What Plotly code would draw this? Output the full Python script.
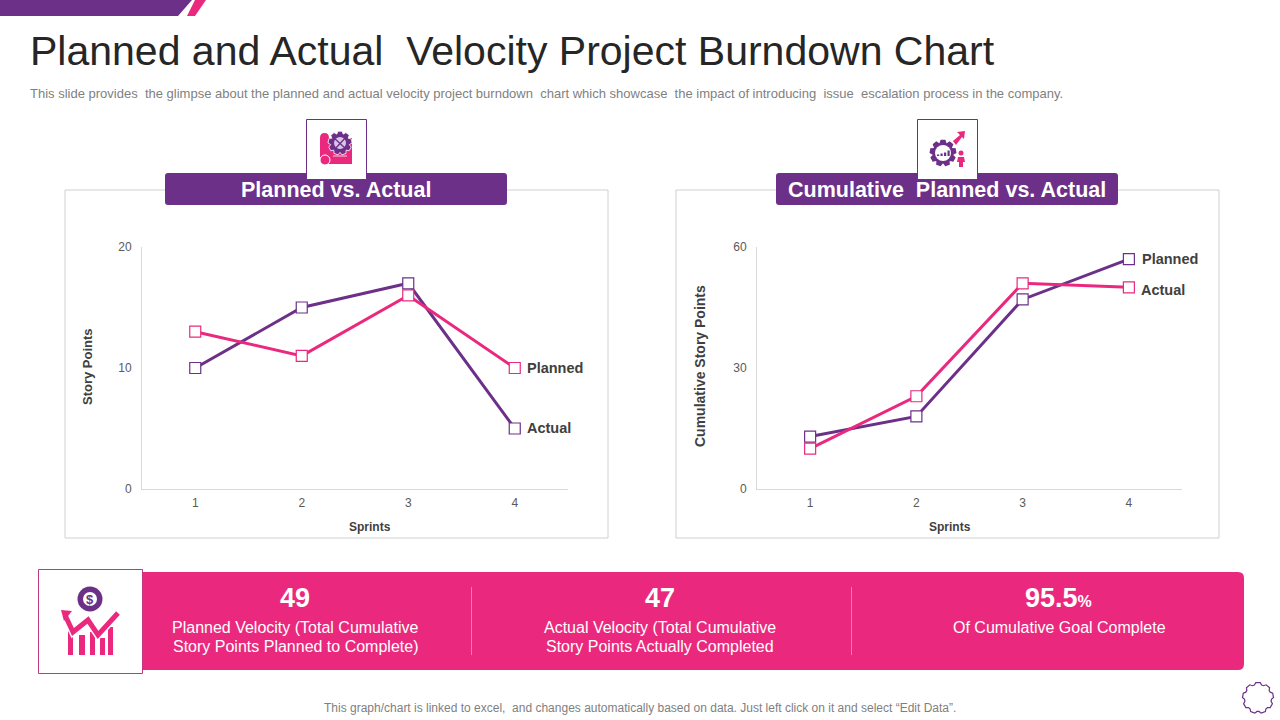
import math
import re
import plotly.graph_objects as go

# ---- data ----
sprints = [1, 2, 3, 4]
left_actual = [10, 15, 17, 5]
left_planned = [13, 11, 16, 10]
right_planned = [13, 18, 47, 57]
right_actual = [10, 23, 51, 50]
left_ticks = [0, 10, 20]
right_ticks = [0, 30, 60]

PURPLE = "#6C3089"
PINK = "#EA297E"
FONT = "Liberation Sans"
W, H = 1280, 720


def px_x(v):
    return v / W


def px_y(v):
    return 1 - v / H


fig = go.Figure()


def series(xa, ya, vals, color, name):
    fig.add_trace(go.Scatter(
        x=sprints, y=vals, xaxis=xa, yaxis=ya, name=name, mode="lines+markers",
        line=dict(color=color, width=3),
        marker=dict(symbol="square", size=11, color="white", line=dict(color=color, width=1.2)),
        showlegend=False, hoverinfo="x+y+name", cliponaxis=False))


series("x", "y", left_actual, PURPLE, "Actual")
series("x", "y", left_planned, PINK, "Planned")
series("x2", "y2", right_planned, PURPLE, "Planned")
series("x2", "y2", right_actual, PINK, "Actual")

axis_x = dict(range=[0.5, 4.5], tickvals=sprints, showgrid=False, zeroline=False,
              showline=True, linecolor="#D9D9D9", linewidth=1, ticks="outside", ticklen=3,
              tickcolor="rgba(0,0,0,0)", tickfont=dict(family=FONT, size=12, color="#595959"))
axis_y = dict(showgrid=False, zeroline=False, showline=True, linecolor="#D9D9D9", linewidth=1,
              ticks="outside", ticklen=7, tickcolor="rgba(0,0,0,0)",
              tickfont=dict(family=FONT, size=12, color="#595959"))

fig.update_layout(
    width=W, height=H, margin=dict(l=0, r=0, t=0, b=0, autoexpand=False), autosize=False,
    paper_bgcolor="white", plot_bgcolor="rgba(0,0,0,0)", showlegend=False,
    xaxis=dict(axis_x, domain=[px_x(142), px_x(568)], anchor="y"),
    yaxis=dict(axis_y, domain=[px_y(489), px_y(247)], range=[0, 20], tickvals=left_ticks, anchor="x"),
    xaxis2=dict(axis_x, domain=[px_x(757), px_x(1182)], anchor="y2"),
    yaxis2=dict(axis_y, domain=[px_y(489), px_y(247)], range=[0, 60], tickvals=right_ticks, anchor="x2"),
)

shapes = []
NUM_PAIR = re.compile(r"(-?[\d.]+),(-?[\d.]+)")


def to_paper(d):
    return NUM_PAIR.sub(lambda m: f"{px_x(float(m.group(1))):.5f},{px_y(float(m.group(2))):.5f}", d)


def path(d, fill=None, line=None, lw=0):
    shapes.append(dict(type="path", path=to_paper(d), xref="paper", yref="paper",
                       fillcolor=fill or "rgba(0,0,0,0)",
                       line=dict(color=line or "rgba(0,0,0,0)", width=lw), layer="below"))


def rect(x0, y0, x1, y1, fill=None, line=None, lw=0):
    shapes.append(dict(type="rect", x0=px_x(x0), y0=px_y(y0), x1=px_x(x1), y1=px_y(y1),
                       xref="paper", yref="paper", fillcolor=fill or "rgba(0,0,0,0)",
                       line=dict(color=line or "rgba(0,0,0,0)", width=lw), layer="below"))


def circle(cx, cy, r, fill=None, line=None, lw=0):
    shapes.append(dict(type="circle", x0=px_x(cx - r), y0=px_y(cy - r), x1=px_x(cx + r), y1=px_y(cy + r),
                       xref="paper", yref="paper", fillcolor=fill or "rgba(0,0,0,0)",
                       line=dict(color=line or "rgba(0,0,0,0)", width=lw), layer="below"))


def rrect(x0, y0, x1, y1, r):
    return (f"M{x0+r},{y0} L{x1-r},{y0} Q{x1},{y0} {x1},{y0+r} L{x1},{y1-r} Q{x1},{y1} {x1-r},{y1} "
            f"L{x0+r},{y1} Q{x0},{y1} {x0},{y1-r} L{x0},{y0+r} Q{x0},{y0} {x0+r},{y0} Z")


def gear(cx, cy, r_out, r_in, teeth, w=1.6):
    pts = []
    step = 2 * math.pi / teeth
    for i in range(teeth):
        a = i * step - math.pi / 2
        for da, r in ((-0.30, r_in), (-0.16, r_out), (0.16, r_out), (0.30, r_in)):
            t = a + da * step * w
            pts.append((cx + r * math.cos(t), cy + r * math.sin(t)))
    return "M" + " L".join(f"{x:.2f},{y:.2f}" for x, y in pts) + " Z"


# top banner
path("M0,0 L192,0 L178,16 L0,16 Z", fill=PURPLE)
path("M195,0 L206,0 L195,16 L187,16 Z", fill=PINK)

# chart panels
rect(65, 190, 608, 538, fill="white", line="#C4C4C4", lw=0.8)
rect(676, 190, 1219, 538, fill="white", line="#C4C4C4", lw=0.8)

# header bars and icon boxes
path(rrect(165, 173, 507, 205, 3), fill=PURPLE)
path(rrect(776, 173, 1118, 205, 3), fill=PURPLE)
rect(306.5, 119.5, 366.5, 179.5, fill="white", line=PURPLE, lw=1)
rect(917.5, 119.5, 977.5, 179.5, fill="white", line=PURPLE, lw=1)

# blueprint icon
path("M328,138 L352,138 L352,164 L328,164 Z", fill=PINK)
path("M320,138 Q320,133 324.5,133 Q329,133 329,138 L329,157 Q324,154 320,158 Z", fill=PINK)
circle(325, 160, 5, fill=PINK, line="white", lw=1)
path(gear(340, 143, 12, 9.5, 9), fill=PURPLE, line="white", lw=0.8)
circle(340, 143, 6, fill="#D9C6E6")
path("M334,150 L348,135", line=PURPLE, lw=1.3)
path("M333,137 L346,149", line=PURPLE, lw=1.3)
path("M333,156 L347,156", line="#F5D3E2", lw=1)

# gear & arrow icon
path(gear(943, 153, 13.5, 10.5, 9), fill=PURPLE)
circle(943, 153, 8, fill="white")
for bx, bh in ((937, 1.5), (940.5, 2.5), (944, 3.5), (947.5, 5.5)):
    rect(bx, 156 - bh, bx + 2.2, 156, fill=PURPLE)
path("M953,141 L960,135 L957,132 L965,131 L964,139 L962,137 L956,145 Z", fill=PINK)
circle(961, 153, 2.5, fill=PINK)
path("M958,157 L964,157 L965,162 L963,162 L963,167 L959,167 L959,162 L957,162 Z", fill=PINK)

# KPI band
path("M143,572 L1238,572 Q1244,572 1244,578 L1244,664 Q1244,670 1238,670 L143,670 Z", fill=PINK)
rect(471, 587, 472, 655, fill="#F07FAF")
rect(851, 587, 852, 655, fill="#F07FAF")
rect(38.5, 569.5, 142.5, 673.5, fill="white", line="#C2357F", lw=1)

# money chart icon
circle(90, 599, 12.5, fill=PURPLE)
circle(90, 599, 7, fill="white")
for bx0, bx1, top in ((68, 73, 630), (79, 85, 635), (90, 95, 632), (100, 105, 638), (108, 113, 627)):
    rect(bx0, top, bx1, 655, fill=PINK)
path("M65,615 L73,632 L88,620 L98,635 L118,613", line="white", lw=8)
path("M65,615 L73,632 L88,620 L98,635 L118,613", line=PINK, lw=5)
path("M61,610 L72,611 L64,621 Z", fill=PINK)

# corner gear outline
path(gear(1258, 698, 15.5, 13.5, 9, 1.3), line=PURPLE, lw=1.2)

fig.update_layout(shapes=shapes)

annotations = []


def text(x, y, s, size, color, bold=False, xanchor="center", angle=0, family=FONT):
    annotations.append(dict(x=px_x(x), y=px_y(y), xref="paper", yref="paper",
                            text=f"<b>{s}</b>" if bold else s,
                            showarrow=False, xanchor=xanchor, yanchor="middle", textangle=angle,
                            font=dict(family=family, size=size, color=color), align="center"))


def end_label(xa, ya, xv, yv, s, xs, ys=0):
    annotations.append(dict(x=xv, y=yv, xref=xa, yref=ya, text=f"<b>{s}</b>", showarrow=False,
                            xanchor="left", yanchor="middle", xshift=xs, yshift=ys,
                            font=dict(family=FONT, size=14.5, color="#404040")))


text(28, 51, "Planned and Actual  Velocity Project Burndown Chart", 41, "#262626", xanchor="left")
text(28, 93.5, "This slide provides  the glimpse about the planned and actual velocity project burndown  chart which "
     "showcase  the impact of introducing  issue  escalation process in the company.", 13, "#7F7F7F", xanchor="left")
text(336, 189.5, "Planned vs. Actual", 21.5, "white", bold=True)
text(947, 189.5, "Cumulative  Planned vs. Actual", 21.5, "white", bold=True)

end_label("x", "y", 4, left_planned[3], "Planned", 10)
end_label("x", "y", 4, left_actual[3], "Actual", 10, 1)
end_label("x2", "y2", 4, right_planned[3], "Planned", 11)
end_label("x2", "y2", 4, right_actual[3], "Actual", 10, -3)

text(370, 527, "Sprints", 12, "#404040", bold=True)
text(950, 527, "Sprints", 12, "#404040", bold=True)
text(87, 367, "Story Points", 13, "#404040", bold=True, angle=-90)
text(700, 366, "Cumulative Story Points", 14, "#404040", bold=True, angle=-90)

text(295, 598, "49", 27, "white", bold=True)
text(295, 627, "Planned Velocity (Total Cumulative", 16, "white")
text(295, 646, "Story Points Planned to Complete)", 16, "white")
text(660, 598, "47", 27, "white", bold=True)
text(660, 627, "Actual Velocity (Total Cumulative", 16, "white")
text(660, 646, "Story Points Actually Completed", 16, "white")
text(1058, 598, "95.5<span style='font-size:16px'>%</span>", 27, "white", bold=True)
text(1059, 627, "Of Cumulative Goal Complete", 16, "white")
text(90, 599, "$", 13, PURPLE, bold=True)
text(640, 708, "This graph/chart is linked to excel,  and changes automatically based on data. Just left click on it and "
     "select “Edit Data”.", 12, "#7F7F7F")

fig.update_layout(annotations=annotations)

fig.write_html("out.html", config=dict(displayModeBar=False),
               post_script="document.body.style.margin='0';document.body.style.overflow='hidden';")
